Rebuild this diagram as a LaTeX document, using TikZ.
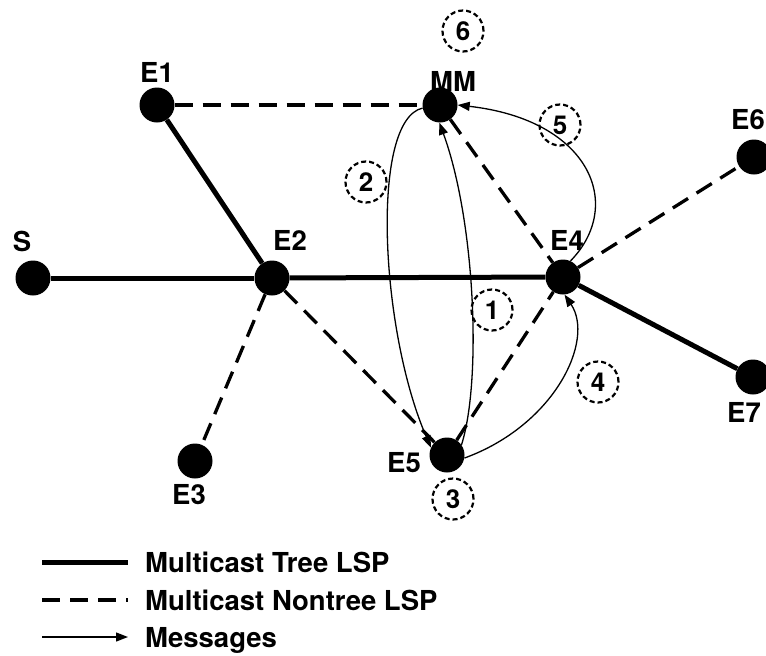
\documentclass[tikz,border=0pt]{standalone}
\usepackage{fontspec}
\setmainfont{TeX Gyre Heros}
\usetikzlibrary{arrows.meta}
\begin{document}
\begin{tikzpicture}[x=1pt,y=-1pt,
  router/.style={circle,fill=black,minimum size=35pt,inner sep=0pt},
  lbl/.style={font=\bfseries\fontsize{27.5}{31}\selectfont,inner sep=0pt},
  stepno/.style={circle,draw,line width=2.2pt,dash pattern=on 5pt off 3pt,
    minimum size=41pt,inner sep=0pt,font=\bfseries\fontsize{26}{29}\selectfont},
  tree/.style={line width=5pt},
  nontree/.style={line width=3.3pt,dash pattern=on 18pt off 10pt},
  msg/.style={line width=1.3pt,-{Triangle[length=12pt,width=9pt]}},
]
\useasboundingbox (0,0) rectangle (766,656);

% routers
\node[router] (S)  at (33,278)  {};
\node[router] (E1) at (157,105) {};
\node[router] (E2) at (272,278) {};
\node[router] (E3) at (195,461) {};
\node[router] (MM) at (440,105) {};
\node[router] (E4) at (563,277) {};
\node[router] (E5) at (447,455) {};
\node[router] (E6) at (754,157) {};
\node[router] (E7) at (753,377) {};

% router names
\node[lbl] at (22,241)  {S};
\node[lbl] at (157,72)  {E1};
\node[lbl] at (290,240) {E2};
\node[lbl] at (189,495) {E3};
\node[lbl] at (453,81)  {MM};
\node[lbl] at (567,240) {E4};
\node[lbl] at (404,463) {E5};
\node[lbl] at (748,120) {E6};
\node[lbl] at (744,412) {E7};

% multicast tree LSP
\draw[tree] (S) -- (E2);
\draw[tree] (E2) -- (E4);
\draw[tree] (E1) -- (E2);
\draw[tree] (E4) -- (E7);

% multicast nontree LSP
\draw[nontree] (E1) -- (MM);
\draw[nontree] (E2) -- (E3);
\draw[nontree] (E2) -- (E5);
\draw[nontree] (MM) -- (E4);
\draw[nontree] (E4) -- (E6);
\draw[nontree] (E5) -- (E4);

% messages
\draw[msg] (E5.35) .. controls (482,380) and (475,220) .. (MM.268);
\draw[msg] (MM.190) .. controls (370,120) and (380,330) .. (E5.155);
\draw[msg] (E5.350) .. controls (555,425) and (595,340) .. (E4.275);
\draw[msg] (E4.65) .. controls (625,205) and (590,120) .. (MM.0);

% message steps
\node[stepno] (n1) at (492,310) {1};
\node[stepno] (n2) at (366,182) {2};
\node[stepno] (n3) at (453,499) {3};
\node[stepno] (n4) at (598,382) {4};
\node[stepno] (n5) at (560,125) {5};
\node[stepno] (n6) at (463,31)  {6};

% legend
\coordinate (la1) at (42,562);  \coordinate (lb1) at (128,562);
\coordinate (la2) at (42,600);  \coordinate (lb2) at (128,600);
\coordinate (la3) at (42,637);  \coordinate (lb3) at (128,637);
\draw[tree] (la1) -- (lb1);
\draw[nontree] (la2) -- (lb2);
\draw[msg] (la3) -- (lb3);
\node[lbl,anchor=base west] (t1) at (145,572) {Multicast Tree LSP};
\node[lbl,anchor=base west] (t2) at (145,610) {Multicast Nontree LSP};
\node[lbl,anchor=base west] (t3) at (145,647) {Messages};
\end{tikzpicture}
\end{document}
